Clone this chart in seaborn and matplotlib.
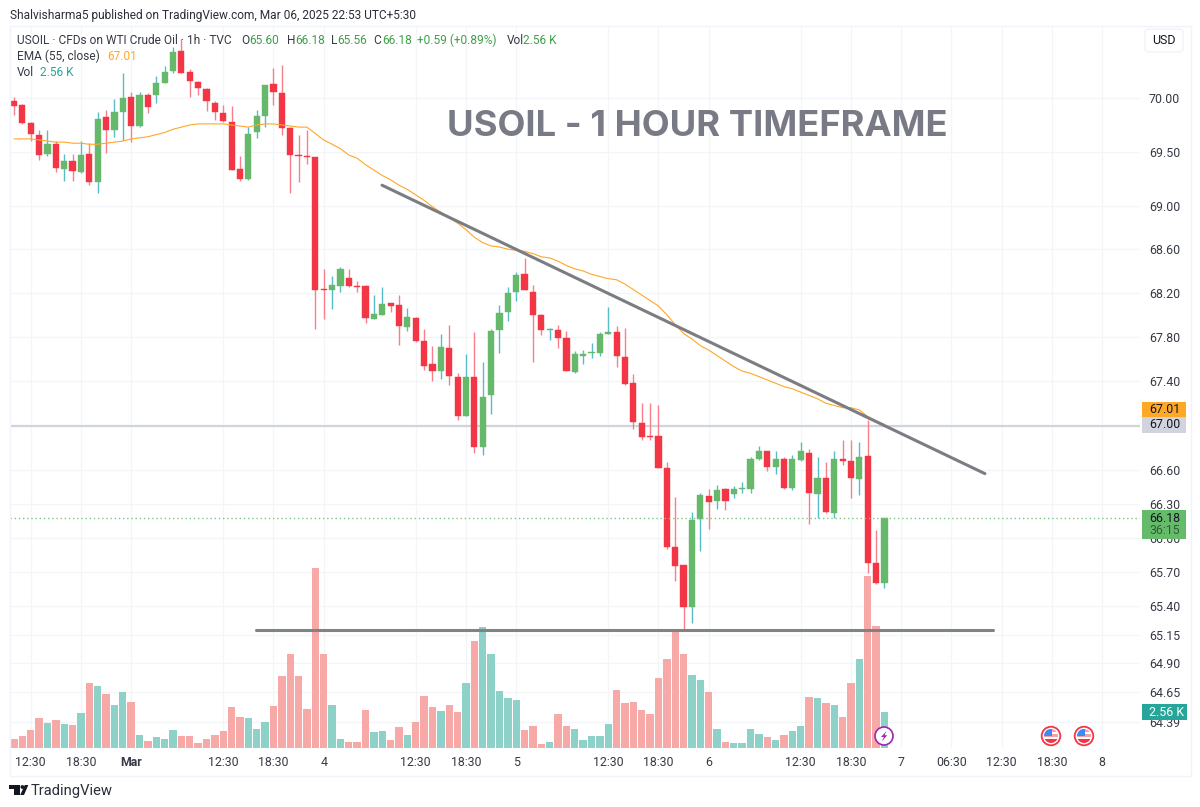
import matplotlib
matplotlib.use("Agg")
import matplotlib.pyplot as plt
from matplotlib.patches import Circle, Polygon, Rectangle, FancyBboxPatch
from matplotlib.ticker import NullLocator, NullFormatter
import numpy as np
import pandas as pd
import seaborn as sns

# Hourly USOIL candles, oldest first
opens = [69.97,69.94,69.77,69.66,69.48,69.57,69.34,69.41,69.31,69.48,
         69.22,69.82,69.70,69.87,70.01,69.74,70.03,70.03,70.14,70.26,
         70.44,70.25,70.15,70.09,69.96,69.86,69.78,69.34,69.25,69.68,
         69.83,70.13,70.05,69.72,69.47,69.46,69.45,68.24,68.23,68.26,
         68.34,68.26,68.26,67.96,68.00,68.11,68.09,67.89,67.97,67.76,
         67.55,67.49,67.70,67.44,67.09,67.44,66.81,67.27,67.86,68.03,
         68.21,68.37,68.21,68.00,67.86,67.86,67.79,67.48,67.63,67.65,
         67.65,67.83,67.84,67.62,67.38,67.02,66.91,66.91,66.62,65.92,
         65.76,65.39,66.17,66.37,66.33,66.43,66.39,66.43,66.43,66.70,
         66.77,66.63,66.70,66.44,66.69,66.75,66.39,66.53,66.22,66.70,
         66.68,66.52,66.73,65.78,65.60]
highs = [70.01,69.95,69.78,69.70,69.70,69.60,69.48,69.48,69.60,69.58,
         69.87,69.89,69.99,70.24,70.06,70.06,70.05,70.21,70.30,70.48,
         70.56,70.27,70.16,70.10,69.97,69.94,69.93,69.46,69.73,69.89,
         70.12,70.28,70.31,69.73,69.66,69.70,69.45,68.42,68.35,68.44,
         68.42,68.31,68.27,68.18,68.25,68.11,68.18,68.06,67.98,67.87,
         67.72,67.83,67.91,67.47,67.64,67.84,67.57,67.87,68.09,68.25,
         68.39,68.52,68.27,68.01,67.88,67.91,67.85,67.67,67.68,67.74,
         67.84,68.07,67.90,67.88,67.46,67.20,67.20,67.18,66.67,66.36,
         65.76,66.23,66.40,66.43,66.47,66.44,66.46,66.50,66.72,66.82,
         66.77,66.77,66.72,66.74,66.85,66.79,66.72,66.67,66.77,66.87,
         66.87,66.85,67.05,66.07,66.18]
lows = [69.84,69.76,69.60,69.42,69.46,69.31,69.23,69.23,69.30,69.19,
        69.12,69.49,69.64,69.61,69.59,69.73,69.86,69.96,70.14,70.24,
        70.24,70.01,70.03,69.88,69.80,69.78,69.33,69.23,69.24,69.63,
        69.73,69.94,69.66,69.12,69.22,69.39,67.87,67.96,68.05,68.21,
        68.25,68.21,67.93,67.96,68.00,68.03,67.73,67.85,67.75,67.50,
        67.40,67.42,67.36,67.05,67.09,66.75,66.74,67.10,67.65,67.94,
        68.13,68.23,67.57,67.82,67.77,67.70,67.49,67.47,67.55,67.61,
        67.63,67.83,67.53,67.36,66.97,66.87,66.87,66.62,65.90,65.62,
        65.19,65.25,65.88,66.08,66.26,66.25,66.35,66.40,66.40,66.69,
        66.59,66.57,66.43,66.42,66.68,66.12,66.18,66.22,66.18,66.65,
        66.35,66.38,65.69,65.59,65.56]
closes = [69.93,69.77,69.67,69.47,69.57,69.35,69.41,69.32,69.47,69.22,
          69.81,69.70,69.87,70.00,69.74,70.03,69.92,70.14,70.25,70.43,
          70.24,70.16,70.10,69.97,69.87,69.79,69.33,69.25,69.67,69.83,
          70.12,70.06,69.72,69.47,69.46,69.45,68.23,68.23,68.27,68.42,
          68.26,68.25,67.97,68.01,68.10,68.08,67.90,67.98,67.76,67.54,
          67.49,67.71,67.45,67.09,67.44,66.81,67.26,67.85,68.02,68.20,
          68.36,68.23,68.00,67.86,67.87,67.79,67.49,67.64,67.64,67.66,
          67.83,67.84,67.63,67.37,67.03,66.90,66.90,66.62,65.92,65.75,
          65.39,66.16,66.38,66.32,66.42,66.33,66.43,66.44,66.70,66.77,
          66.63,66.70,66.44,66.70,66.77,66.40,66.53,66.23,66.70,66.68,
          66.53,66.72,65.78,65.60,66.18]
ema55 = [69.62,69.62,69.62,69.61,69.60,69.59,69.59,69.58,69.58,69.57,
         69.57,69.58,69.59,69.60,69.62,69.63,69.64,69.66,69.68,69.71,
         69.73,69.75,69.76,69.76,69.76,69.76,69.75,69.74,69.73,69.75,
         69.76,69.76,69.75,69.74,69.73,69.73,69.67,69.61,69.57,69.53,
         69.47,69.44,69.38,69.33,69.28,69.24,69.19,69.15,69.10,69.05,
         68.99,68.94,68.89,68.84,68.78,68.71,68.66,68.63,68.62,68.60,
         68.59,68.58,68.56,68.53,68.52,68.49,68.45,68.42,68.40,68.37,
         68.35,68.33,68.32,68.28,68.23,68.18,68.13,68.08,68.00,67.91,
         67.83,67.78,67.72,67.68,67.63,67.58,67.53,67.49,67.47,67.44,
         67.41,67.38,67.35,67.33,67.30,67.27,67.24,67.20,67.18,67.16,
         67.16,67.14,67.08,67.04,67.01]
# Traded volume per bar, thousands of contracts
volume_k = [0.64,0.83,1.29,2.14,1.81,2.02,1.74,1.62,2.48,4.67,
            4.45,3.88,3.05,4.02,3.29,0.95,0.48,0.79,0.62,1.29,
            0.88,0.88,0.38,0.67,0.95,1.21,2.93,2.19,2.12,1.33,
            1.88,2.98,5.12,6.74,5.12,2.76,12.88,6.74,3.05,0.67,
            0.40,0.40,2.71,1.17,1.21,0.55,1.48,0.95,1.86,3.71,
            2.95,2.62,3.07,2.57,4.64,7.64,8.64,6.71,4.05,3.57,
            3.40,1.26,1.60,0.31,0.45,2.40,1.57,1.33,0.55,0.83,
            0.86,1.71,4.14,3.24,3.31,2.69,2.40,4.98,6.36,8.43,
            6.74,5.19,4.83,3.98,1.38,0.45,0.33,0.33,1.38,1.02,
            0.79,0.55,0.90,1.21,1.57,3.67,3.57,3.21,3.07,2.21,
            4.64,6.33,12.30,8.71,2.56]

price_ticks = [70.00,69.50,69.00,68.60,68.20,67.80,67.40,67.00,66.60,66.30,
               66.00,65.70,65.40,65.15,64.90,64.65,64.39]
time_tick_bars = [2,8,14,25,31,37,48,54,60,71,77,83,94,100,106,112,118,124,130]
time_tick_labels = ["12:30","18:30","Mar","12:30","18:30","4","12:30","18:30","5",
                    "12:30","18:30","6","12:30","18:30","7","06:30","12:30","18:30","8"]

# Hand-drawn levels: (bar, price) end points
trend_bars, trend_prices = [43.97, 116.0], [69.19, 66.57]
support_bars, support_prices = [28.9, 117.0], [65.19, 65.19]
level_price = 67.00
last_close = closes[-1]

RED, GREEN = "#F23645", "#66B96B"
WICK_RED, WICK_GREEN = "#F77F8C", "#58BCC8"
VOL_RED, VOL_GREEN = "#F7A9A8", "#8DD1C9"
GREY_TEXT = "#363A45"
GAIN_TEXT = "#3F9F4A"
ORANGE = "#FFA726"
TEAL = "#26A69A"
GRID = "#F3F5F9"

sns.set_theme(style="white")
plt.rcParams["font.family"] = ["Roboto", "DejaVu Sans"]

df = pd.DataFrame({"bar": np.arange(len(closes)), "open": opens, "high": highs,
                   "low": lows, "close": closes, "ema": ema55, "vol": volume_k})
df["side"] = np.where(df["close"] >= df["open"], "up", "down")

W, H = 1200, 807
fig = plt.figure(figsize=(W / 100, H / 100), dpi=100, facecolor="white")
rect = [10 / W, (H - 748) / H, 1130 / W, 722 / H]

# Base layer: price scale, time scale and grid
ax = fig.add_axes(rect, zorder=1)
ax.set_yscale("log")
ax.set_xlim(-0.478, 134.53)
ax.set_ylim(64.17, 70.68)
ax.yaxis.set_minor_locator(NullLocator())
ax.yaxis.set_minor_formatter(NullFormatter())
ax.yaxis.tick_right()
ax.set_yticks(price_ticks, [f"{p:.2f}" for p in price_ticks])
ax.set_xticks(time_tick_bars, time_tick_labels)
ax.tick_params(axis="y", length=0, pad=6.5, labelsize=8.9, labelcolor=GREY_TEXT)
ax.tick_params(axis="x", length=0, pad=6, labelsize=8.9, labelcolor=GREY_TEXT)
ax.get_xticklabels()[2].set_fontweight("bold")
ax.grid(True, color=GRID, lw=1)
ax.set_axisbelow(True)
for s in ax.spines.values():
    s.set_visible(False)

# Volume pane, sharing the time axis
ax_v = fig.add_axes(rect, sharex=ax, zorder=2)
sns.barplot(data=df, x="bar", y="vol", hue="side", hue_order=["down", "up"],
            palette={"down": VOL_RED, "up": VOL_GREEN}, native_scale=True,
            dodge=False, width=0.88, saturation=1, errorbar=None, legend=False,
            linewidth=0, ax=ax_v)
ax_v.set_ylim(0, 722 / 14)
ax_v.set_xlim(-0.478, 134.53)
ax_v.axis("off")

# Candles, EMA and drawn levels on top
ax_c = fig.add_axes(rect, sharex=ax, sharey=ax, zorder=3)
ax_c.patch.set_visible(False)
ax_c.hlines(level_price, -0.478, 134.53, color="#D1D4DC", lw=1.6, zorder=1)
for side, wick, body in (("down", WICK_RED, RED), ("up", WICK_GREEN, GREEN)):
    part = df[df["side"] == side]
    ax_c.vlines(part["bar"], part["low"], part["high"], color=wick, lw=1.0, zorder=2)
    tops = part[["open", "close"]].max(axis=1)
    bots = part[["open", "close"]].min(axis=1)
    ax_c.bar(part["bar"], tops - bots, bottom=bots, width=0.74, color=body,
             edgecolor=body, lw=0.3, zorder=3)
sns.lineplot(data=df, x="bar", y="ema", color=ORANGE, lw=0.8, ax=ax_c, zorder=4,
             errorbar=None, legend=False)
ax_c.hlines(last_close, -0.478, 134.53, color="#7CC680", lw=1.0, linestyles=(0, (1, 2)), zorder=5)
ax_c.plot(trend_bars, trend_prices, color="#7B7D82", lw=2.2, zorder=6, solid_capstyle="round")
ax_c.plot(support_bars, support_prices, color="#808285", lw=2.2, zorder=6, solid_capstyle="round")
ax_c.set_xlim(-0.478, 134.53)
ax_c.axis("off")

# Pixel-space layer for captions, price flags and icons
ov = fig.add_axes([0, 0, 1, 1], zorder=5)
ov.set_xlim(0, W)
ov.set_ylim(H, 0)
ov.axis("off")
ov.patch.set_visible(False)


def caption(x, y, s, color=GREY_TEXT, size=8.6, weight="normal", ha="left", zorder=10, family=None):
    ov.text(x, y, s, color=color, fontsize=size, fontweight=weight, ha=ha, va="center",
            zorder=zorder, family=family)


ov.add_patch(Rectangle((9.5, 25.5), 1181, 750, fill=False, ec="#F0F3FA", lw=1))
caption(10, 15, "Shalvisharma5 published on TradingView.com, Mar 06, 2025 22:53 UTC+5:30", color="#2A2E39")

caption(17, 40.5, "USOIL · CFDs on WTI Crude Oil · 1h · TVC")
for x, s, c in [(241, "O", GREY_TEXT), (249.5, "65.60", GAIN_TEXT), (286.7, "H", GREY_TEXT),
                (295, "66.18", GAIN_TEXT), (330.7, "L", GREY_TEXT), (337, "65.56", GAIN_TEXT),
                (373, "C", GREY_TEXT), (382, "66.18", GAIN_TEXT), (417.3, "+0.59 (+0.89%)", GAIN_TEXT),
                (507.3, "Vol", GREY_TEXT), (523, "2.56 K", GAIN_TEXT)]:
    caption(x, 40.5, s, color=c)
caption(17, 56.5, "EMA (55, close)")
caption(107, 56.5, "67.01", color=ORANGE)
caption(17, 72.5, "Vol")
caption(40, 72.5, "2.56 K", color=TEAL)

caption(447, 126, "USOIL - 1 HOUR TIMEFRAME", color="#787B86", size=26.2, weight="bold",
        family=["Inter", "DejaVu Sans"])

# Currency button
ov.add_patch(FancyBboxPatch((1145, 29), 38, 23, boxstyle="round,pad=0,rounding_size=4",
                            fc="white", ec="#F0F3FA", lw=1, zorder=8))
caption(1164, 41, "USD", ha="center", color="#131722", size=8.9, zorder=9)

# Price flags on the scale
for y0, y1, fc in [(402, 417, ORANGE), (417, 433, "#D1D4DC"), (510, 539, "#66BB6A")]:
    ov.add_patch(Rectangle((1141.5, y0), 44, y1 - y0, fc=fc, ec="none", zorder=8))
ov.add_patch(Rectangle((1141.5, 704), 45, 16, fc=TEAL, ec="none", zorder=8))
caption(1149, 409.5, "67.01", color="#131722", size=8.9)
caption(1149, 425, "67.00", color="#131722", size=8.9)
caption(1149, 518, "66.18", color="#131722", size=8.9)
caption(1149, 531, "36:15", color="#2F5F35", size=8.9)
caption(1149, 712, "2.56 K", color="white", size=8.9)

# Lightning marker on the last bar
ov.add_patch(Circle((884, 736), 9, fc="white", ec="#9C27B0", lw=1.2, zorder=8))
ov.add_patch(Polygon([(886.5, 731), (881, 737), (884, 737), (881.8, 741.5), (887.3, 735.2), (884.5, 735.2)],
                     fc="#9C27B0", ec="none", zorder=9))

# Economic-event flags in the future area
for cx in (1051, 1084):
    disc = Circle((cx, 736), 9.3, fc="white", ec="#F23645", lw=1.3, zorder=8)
    ov.add_patch(disc)
    clip = Circle((cx, 736), 7, transform=ov.transData)
    for y0, h, fc in [(729, 3, "#F7A0A8"), (732, 2, "white"), (734, 3, "#F7A0A8"),
                      (737, 2, "white"), (739, 4, "#F23645")]:
        r = Rectangle((cx - 7, y0), 14, h, fc=fc, ec="none", zorder=9)
        ov.add_patch(r)
        r.set_clip_path(clip)
    b = Rectangle((cx - 7, 729), 7.5, 7, fc="#3D8BF0", ec="none", zorder=10)
    ov.add_patch(b)
    b.set_clip_path(clip)

# Logo mark and wordmark
ov.add_patch(Polygon([(9, 785), (19.5, 785), (19.5, 795), (14, 795), (14, 788.6), (9, 788.6)], fc="#131722", ec="none"))
ov.add_patch(Circle((22.4, 787), 1.9, fc="#131722", ec="none"))
ov.add_patch(Polygon([(24.8, 785), (28.3, 785), (24, 795), (20.2, 795)], fc="#131722", ec="none"))
caption(31, 791, "TradingView", color="#2A2E39", size=10.6)

fig.savefig("out.png", dpi=100, facecolor="white")
